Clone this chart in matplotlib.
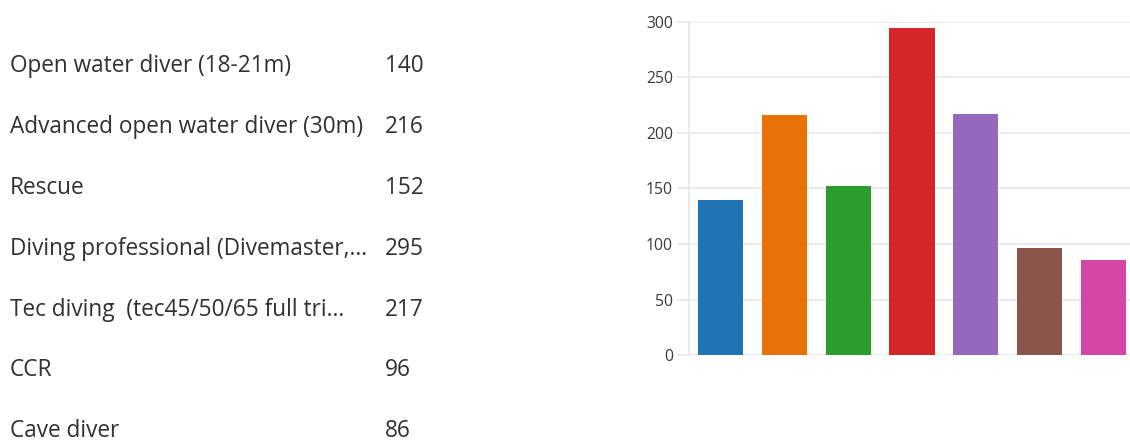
import matplotlib
matplotlib.use("Agg")
import matplotlib.pyplot as plt

# Survey answers and counts
categories = [
    "Open water diver (18-21m)",
    "Advanced open water diver (30m)",
    "Rescue",
    "Diving professional (Divemaster,...",
    "Tec diving  (tec45/50/65 full tri...",
    "CCR",
    "Cave diver",
]
counts = [140, 216, 152, 295, 217, 96, 86]
bar_colors = ["#2074b4", "#e97208", "#2c9c2e", "#d42628",
              "#9468bc", "#8a564c", "#d446a6"]
y_ticks = [0, 50, 100, 150, 200, 250, 300]

W, H = 1130, 443
fig = plt.figure(figsize=(W / 100, H / 100), dpi=100)
fig.patch.set_facecolor("white")

font = ["Open Sans", "DejaVu Sans"]
text_color = "#323130"

# Left-hand list of answers with their counts
row_top = 66.5
row_step = 60.8
for i, (label, n) in enumerate(zip(categories, counts)):
    yc = 1 - (row_top + i * row_step) / H
    fig.text(10 / W, yc, label, ha="left", va="center", fontsize=16.3,
             family=font, color=text_color)
    fig.text(385 / W, yc, str(n), ha="left", va="center", fontsize=16.3,
             family=font, color=text_color)

# Bar chart on the right
ax_left, ax_bottom_px, ax_top_px = 689, 355, 22
ax = fig.add_axes([ax_left / W, (H - ax_bottom_px) / H,
                   (W - ax_left) / W, (ax_bottom_px - ax_top_px) / H])
x = list(range(len(counts)))
ax.bar(x, counts, width=0.71, color=bar_colors, zorder=3)
ax.set_xlim(-0.5, 6.42)
ax.set_ylim(0, 300)
ax.set_yticks(y_ticks)
ax.set_xticks([])
grid_color = "#e8e8e8"
ax.grid(axis="y", color=grid_color, linewidth=1.2, zorder=0)
for side in ("top", "right", "bottom"):
    ax.spines[side].set_visible(False)
ax.spines["left"].set_color(grid_color)
ax.spines["left"].set_linewidth(1.2)
ax.tick_params(axis="y", length=8.5, width=1.2, color=grid_color, pad=3,
               labelsize=11.3, labelcolor="#3b3a39")
for lbl in ax.get_yticklabels():
    lbl.set_family(font)

fig.savefig("out.png", dpi=100, facecolor="white")
